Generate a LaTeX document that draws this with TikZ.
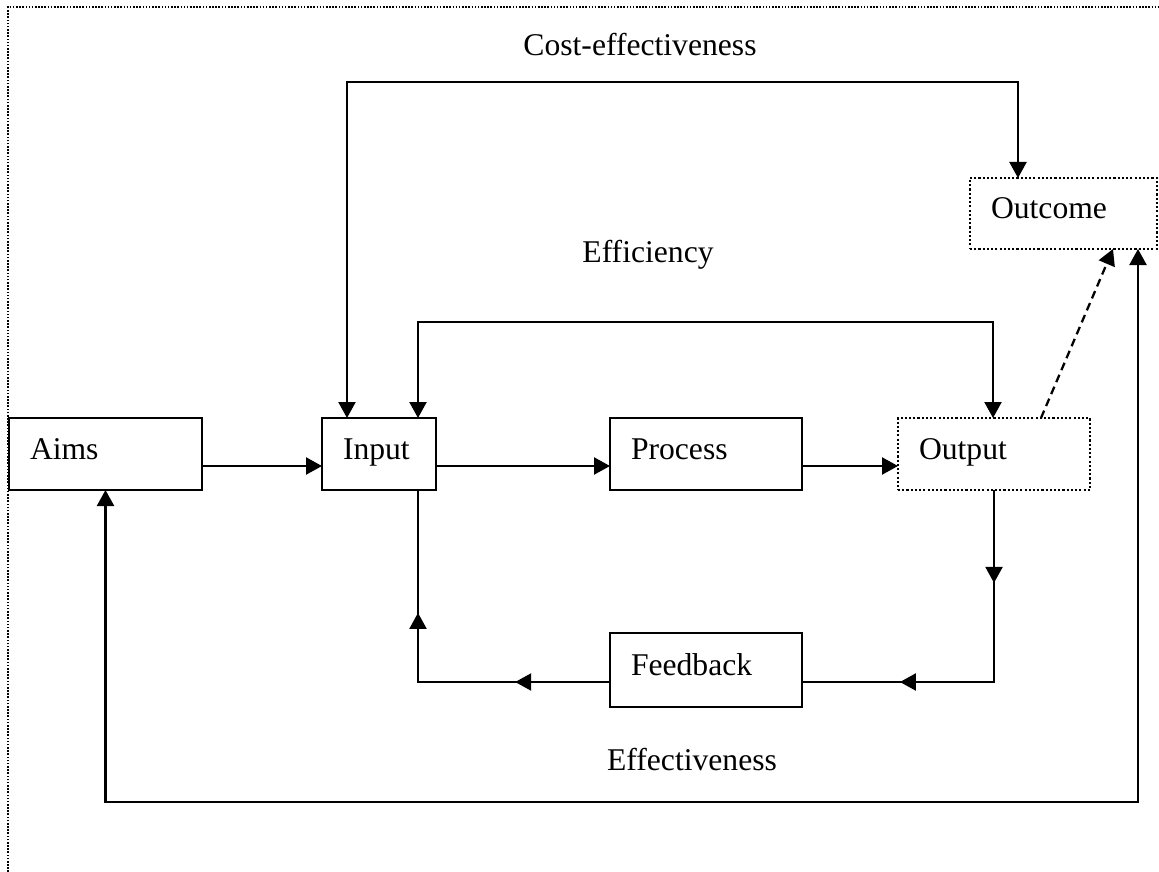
\documentclass[tikz,border=0pt]{standalone}
\usepackage{fontspec}
\setmainfont{Liberation Serif}
\usetikzlibrary{arrows.meta, positioning, calc, decorations.markings}

\begin{document}
\begin{tikzpicture}[
        node distance=2.4cm and 2.4cm,
        font=\fontsize{18}{22}\selectfont,
        % Estilos das caixas e das setas
        box/.style={rectangle, draw=black, line width=1.3pt, outer sep=0pt, minimum height=1.44cm, inner xsep=0.42cm, align=left, text height=0.4cm, text depth=0.2cm},
        dotbox/.style={box, dash pattern=on 1.2pt off 1.2pt},
        arrow/.style={-{Triangle[length=0.32cm, width=0.34cm]}, line width=1.3pt},
        twoway/.style={{Triangle[length=0.32cm, width=0.34cm]}-{Triangle[length=0.32cm, width=0.34cm]}, line width=1.3pt},
        midtips/.style 2 args={line width=1.2pt, postaction={decorate}, decoration={markings,
            mark=at position #1 with {\arrow{Triangle[length=0.32cm, width=0.34cm]}},
            mark=at position #2 with {\arrow{Triangle[length=0.32cm, width=0.34cm]}}}},
        frame/.style={line width=0.9pt, dash pattern=on 0.9pt off 0.9pt}
    ]

    \useasboundingbox (0,0) rectangle (23.18,-17.44);

    % Moldura pontilhada
    \draw [frame] (0.16,-17.44) -- (0.16,-0.14) -- (23.18,-0.14);

    % 1. Linha principal
    \node (aims) [box, text width=3.02cm, anchor=north west] at (0.18,-8.36) {Aims};
    \node (input) [box, text width=1.44cm, right=2.4cm of aims] {Input};
    \node (process) [box, text width=3cm, right=3.48cm of input] {Process};
    \node (output) [dotbox, text width=3cm, right=1.92cm of process] {Output};

    % 2. Retorno e resultado
    \node (feedback) [box, text width=3cm, minimum height=1.48cm, below=2.86cm of process] {Feedback};
    \node (outcome) [dotbox, text width=2.9cm, minimum height=1.42cm, anchor=north west] at (19.4,-3.56) {Outcome};

    % 3. Rotulos
    \node (costlbl) at (12.8,-0.9) {Cost-effectiveness};
    \node (efflbl) at (12.96,-5.1) {Efficiency};
    \node (effvlbl) at (13.84,-15.2) {Effectiveness};

    % Setas retas
    \draw [arrow] ([yshift=-0.24cm]aims.east) -- ([yshift=-0.24cm]input.west);
    \draw [arrow] ([yshift=-0.24cm]input.east) -- ([yshift=-0.24cm]process.west);
    \draw [arrow] ([yshift=-0.24cm]process.east) -- ([yshift=-0.24cm]output.west);

    % Lacos superiores
    \draw [twoway] ([xshift=0.5cm]input.north west) -- ++(0,6.72) -| ([xshift=0.96cm]outcome.north west);
    \draw [twoway] ([xshift=1.92cm]input.north west) -- ++(0,1.92) -| ([xshift=1.9cm]output.north west);

    % Laco de feedback
    \draw [midtips={0.242}{0.745}] (output.south) |- ([yshift=-0.24cm]feedback.east);
    \draw [midtips={0.247}{0.68}] ([yshift=-0.24cm]feedback.west) -| ([xshift=1.92cm]input.south west);

    % Efetividade
    \draw [twoway] (aims.south) -- ++(0,-6.24) -| ([xshift=3.36cm]outcome.south west);

    % Seta tracejada
    \draw [arrow, dash pattern=on 0.16cm off 0.1cm] ([xshift=2.86cm]output.north west) -- ([xshift=2.86cm]outcome.south west);

\end{tikzpicture}
\end{document}
